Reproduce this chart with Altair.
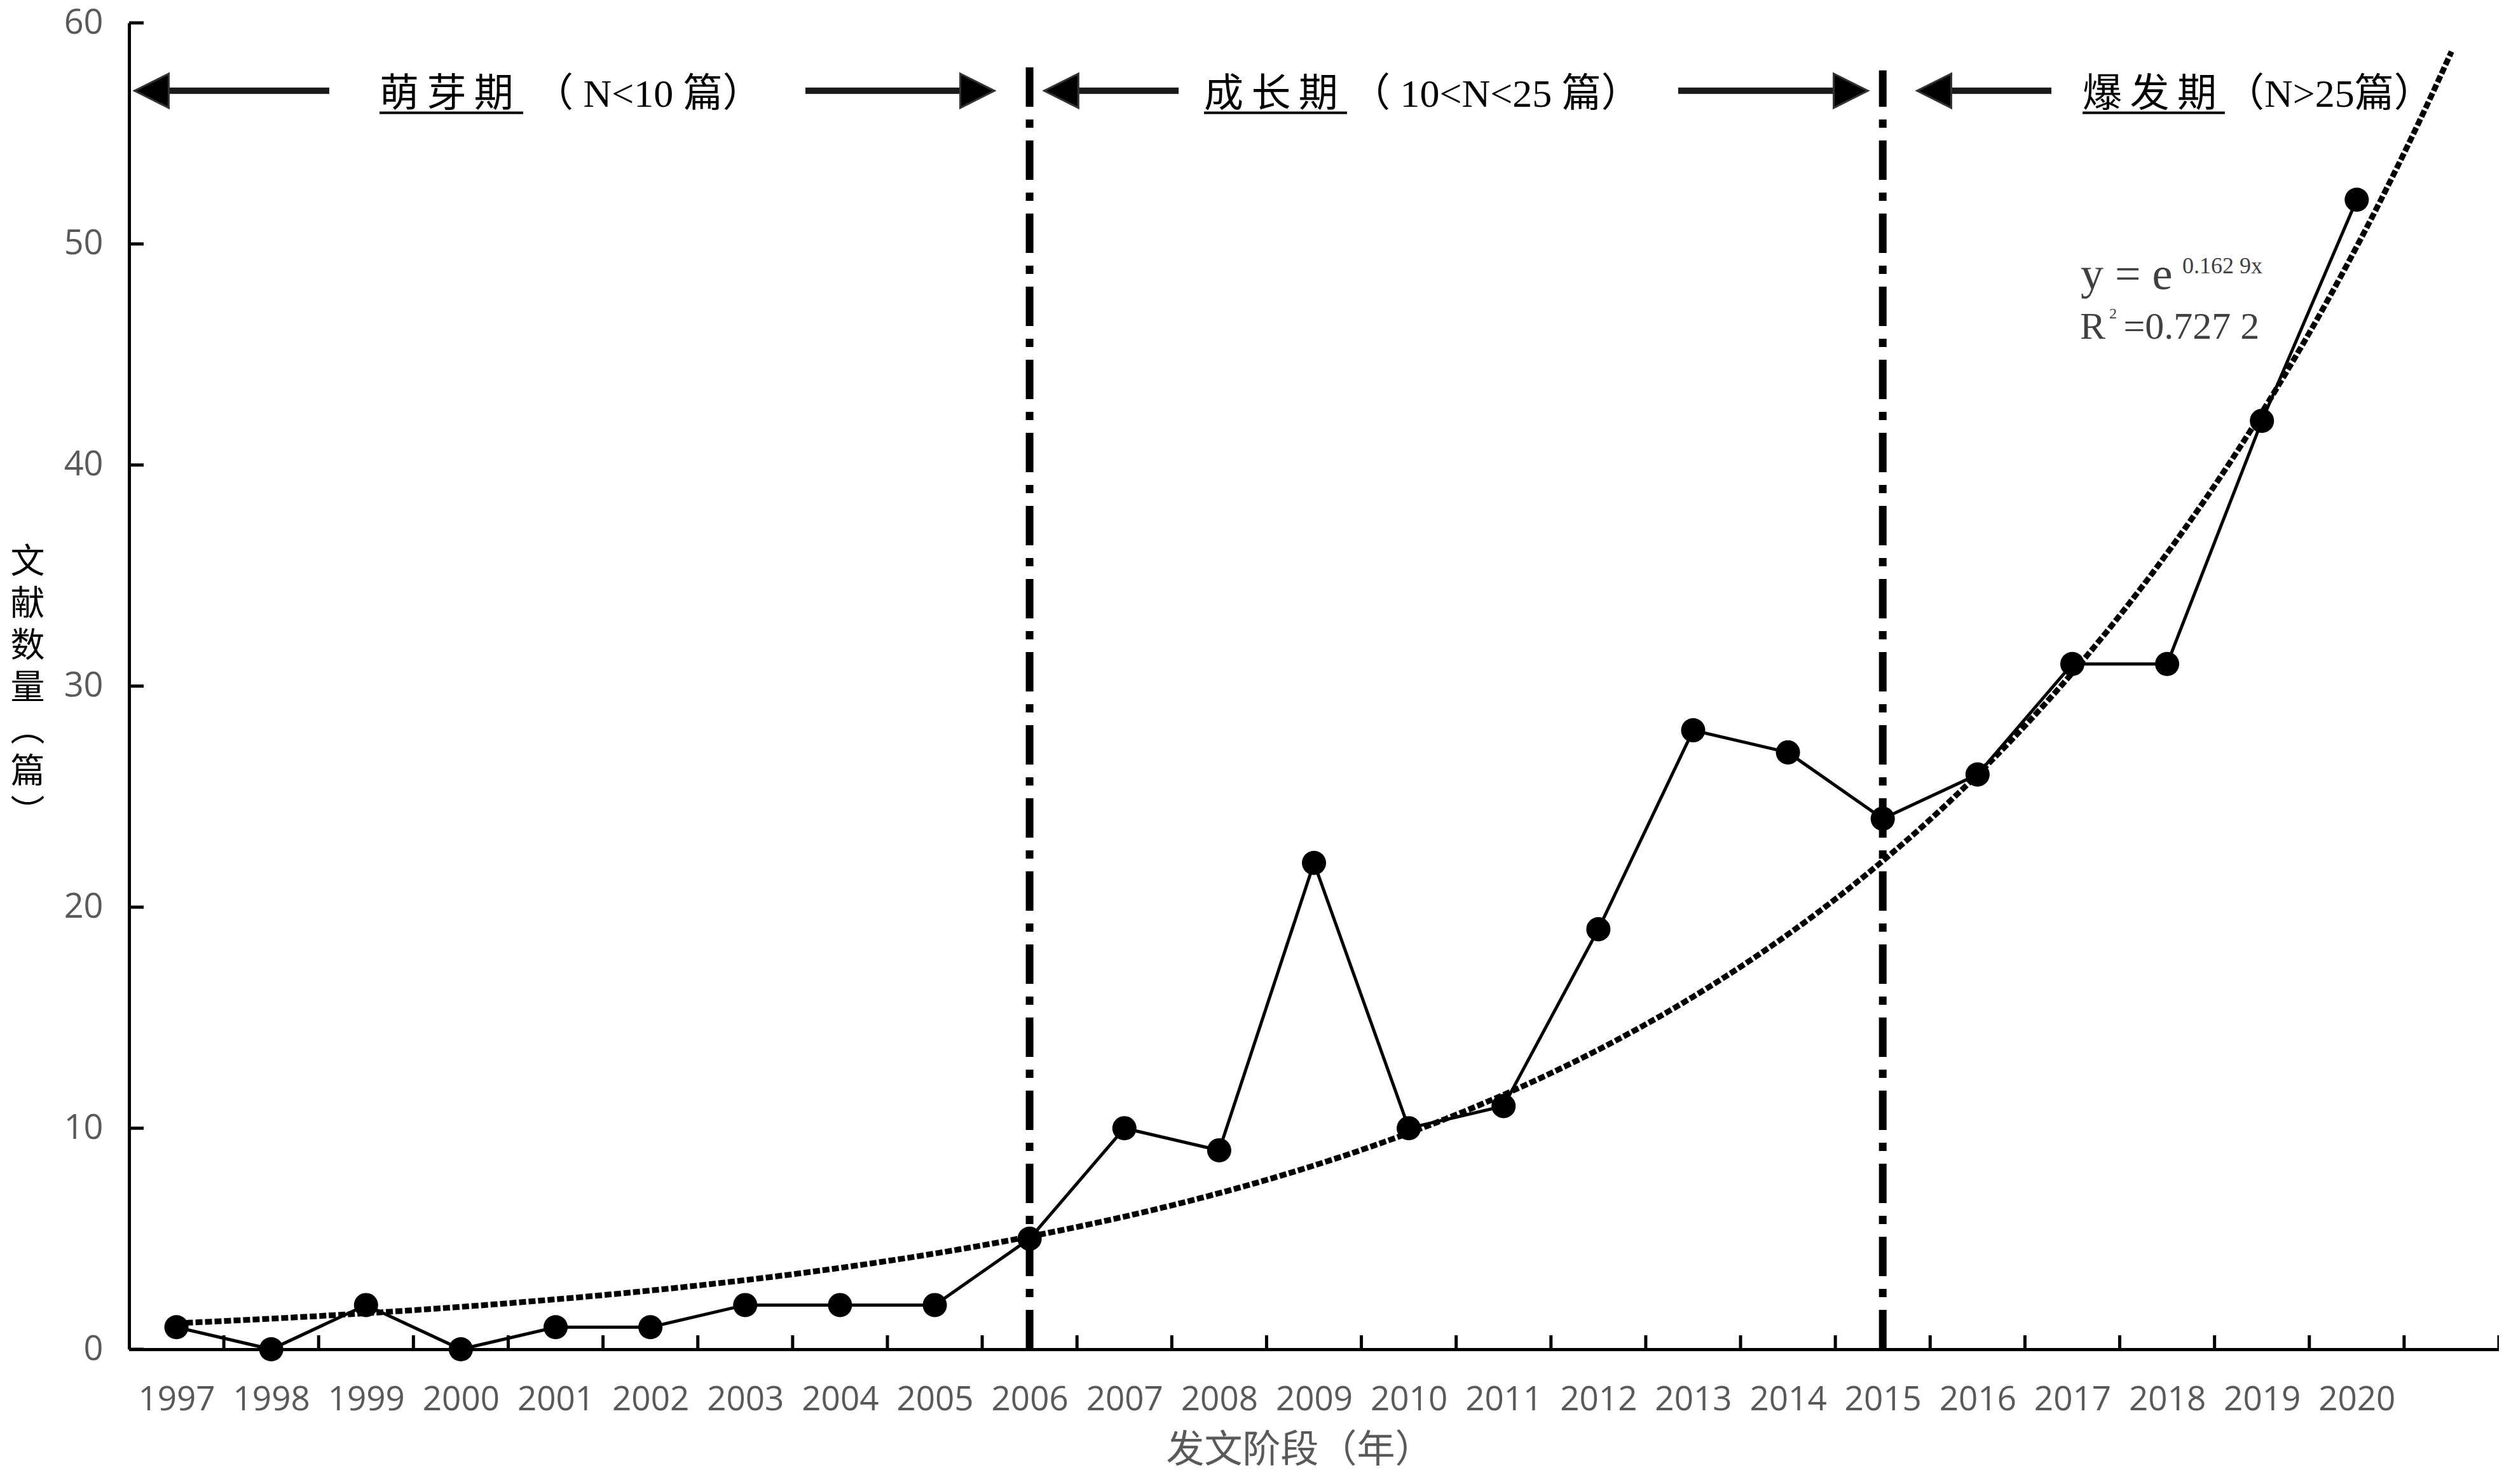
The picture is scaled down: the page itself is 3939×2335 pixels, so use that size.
import altair as alt
import pandas as pd

# ---------------- data ----------------
years = list(range(1997, 2021))
counts = [1, 0, 2, 0, 1, 1, 2, 2, 2, 5, 10, 9, 22, 10, 11, 19, 28, 27, 24, 26, 31, 31, 42, 52]
y_ticks = [0, 10, 20, 30, 40, 50, 60]
x_domain = [1996.5, 2021.5]
cat_bounds = [y + 0.5 for y in range(1997, 2022)]   # category separators (one forecast slot)
trend_b = 0.1629          # y = e^(0.1629 x), x = 1 for 1997
trend_n = 25              # trend forecast one period forward
eq_r2 = "0.727 2"

phase_split_year = [2006, 2015]
phase_split_top = [58.25, 57.85]

phase_names = ["萌\u2009芽\u2009期", "成\u2009长\u2009期", "爆\u2009发\u2009期"]
phase_rest = ["（ N<10 篇）", "（ 10<N<25 篇）", "（N>25篇）"]
phase_name_x = [1999.142, 2007.840, 2017.108]
phase_rest_x = [2000.772, 2009.389, 2018.609]
phase_text_y = 56.21
underline_x0 = [1999.142, 2007.840, 2017.108]
underline_x1 = [2000.658, 2009.349, 2018.609]
underline_y = 55.93

arrow_y = 56.93
shaft_x0 = [1996.782, 2003.635, 2006.271, 2012.842, 2015.478]
shaft_x1 = [1998.612, 2005.399, 2007.572, 2014.720, 2016.779]
head_x = [1996.738, 2005.449, 2006.334, 2014.663, 2015.542]
head_dir = ["left", "right", "left", "right", "left"]

eq_text = ["y = e", "0.162 9x", "R", "2", "=" + eq_r2]
eq_x = [2017.087, 2018.161, 2017.081, 2017.390, 2017.540]
eq_y = [47.95, 48.67, 45.71, 46.64, 45.71]
eq_fs = [72, 36, 60, 24, 60]

# ---------------- layout ----------------
W, H = 3728, 2087
SERIF = '"Liberation Serif", "Noto Sans CJK SC"'
CJK = "Noto Sans CJK SC"
NUM = "Open Sans"

df = pd.DataFrame({"year": years, "count": counts})

x_main = alt.X(
    "year:Q",
    scale=alt.Scale(domain=x_domain, nice=False, zero=False),
    axis=alt.Axis(
        values=years, format="d", ticks=False, grid=False,
        domainColor="black", domainWidth=5,
        labelFont=NUM, labelFontSize=53, labelColor="#595959", labelPadding=53,
        labelOverlap=False, labelFlush=False,
        title="发文阶段（年）", titleFont=CJK, titleFontSize=60, titleColor="#595959",
        titleFontWeight="normal", titleX=1841, titleY=130, titleBaseline="top", titleAlign="center",
    ),
)
y_main = alt.Y(
    "count:Q",
    scale=alt.Scale(domain=[0, 60], nice=False),
    axis=alt.Axis(
        values=y_ticks, ticks=False, grid=False,
        domainColor="black", domainWidth=5,
        labelFont=NUM, labelFontSize=54, labelColor="#595959", labelPadding=41,
        title=["文", "献", "数", "量", "︵", "篇", "︶"], titleAngle=0, titleAlign="center",
        titleBaseline="top", titleX=-160, titleY=822, titleLineHeight=66,
        titleFont=CJK, titleFontSize=54, titleColor="black", titleFontWeight="normal",
    ),
)

data_line = alt.Chart(df).mark_line(color="black", strokeWidth=5).encode(x=x_main, y=y_main)

points = alt.Chart(df).mark_point(shape="circle", filled=True, size=1450, color="black", opacity=1).encode(
    x=x_main, y=y_main
)

trend = (
    alt.Chart(alt.sequence(1, trend_n + 0.001, 0.05, as_="t"))
    .transform_calculate(year=f"{years[0] - 1} + datum.t", count=f"exp({trend_b} * datum.t)")
    .mark_line(color="black", strokeWidth=9, strokeDash=[11, 4], strokeCap="butt")
    .encode(x=x_main, y=y_main)
)

split_df = pd.DataFrame({"year": phase_split_year, "count": [0, 0], "top": phase_split_top})
splits = alt.Chart(split_df).mark_rule(color="black", strokeWidth=12, strokeDash=[62, 20, 13, 20]).encode(
    x=x_main, y=y_main, y2="top:Q"
)

ytick_df = pd.DataFrame({"count": y_ticks})
yticks = alt.Chart(ytick_df).mark_rule(color="black", strokeWidth=5).encode(
    y=y_main, x=alt.value(0), x2=alt.value(23)
)
xtick_df = pd.DataFrame({"year": cat_bounds})
xticks = alt.Chart(xtick_df).mark_rule(color="black", strokeWidth=5).encode(
    x=x_main, y=alt.value(H), y2=alt.value(H - 22)
)

shaft_df = pd.DataFrame({"year": shaft_x0, "x1": shaft_x1, "count": [arrow_y] * len(shaft_x0)})
shafts = alt.Chart(shaft_df).mark_rule(color="#1a1a1a", strokeWidth=10).encode(
    x=x_main, x2="x1:Q", y=y_main
)
head_df = pd.DataFrame({"year": head_x, "count": [arrow_y] * len(head_x), "dir": head_dir})
heads = alt.Chart(head_df).mark_point(filled=True, size=2900, color="black", opacity=1,
                                      stroke="#333333", strokeWidth=3).encode(
    x=x_main, y=y_main,
    shape=alt.Shape("dir:N", scale=alt.Scale(domain=["left", "right"],
                                            range=["M-1,0L1,-1L1,1Z", "M1,0L-1,-1L-1,1Z"]), legend=None),
)

ptext_df = pd.DataFrame({
    "year": phase_name_x + phase_rest_x,
    "count": [phase_text_y] * 6,
    "label": phase_names + phase_rest,
})
ptext = alt.Chart(ptext_df).mark_text(align="left", baseline="alphabetic", font=SERIF, fontSize=62,
                                      color="black").encode(
    x=x_main, y=y_main, text="label:N"
)
uline_df = pd.DataFrame({"year": underline_x0, "x1": underline_x1, "count": [underline_y] * 3})
ulines = alt.Chart(uline_df).mark_rule(color="black", strokeWidth=4).encode(
    x=x_main, x2="x1:Q", y=y_main
)

eq_df = pd.DataFrame({"year": eq_x, "count": eq_y, "label": eq_text, "fs": eq_fs})
eq = alt.Chart(eq_df).mark_text(align="left", baseline="alphabetic", font="Liberation Serif",
                                color="#404040").encode(
    x=x_main, y=y_main, text="label:N",
    size=alt.Size("fs:Q", scale=None, legend=None),
)

chart = (
    alt.layer(data_line, splits, trend, points, yticks, xticks, shafts, heads, ptext, ulines, eq)
    .properties(
        width=W, height=H,
        autosize=alt.AutoSizeParams(type="none"),
        padding={"left": 195, "top": 28, "right": 0, "bottom": 197},
        background="white",
    )
    .configure_view(stroke=None)
)

chart.save("out.html", embed_options={"renderer": "svg", "actions": False})
